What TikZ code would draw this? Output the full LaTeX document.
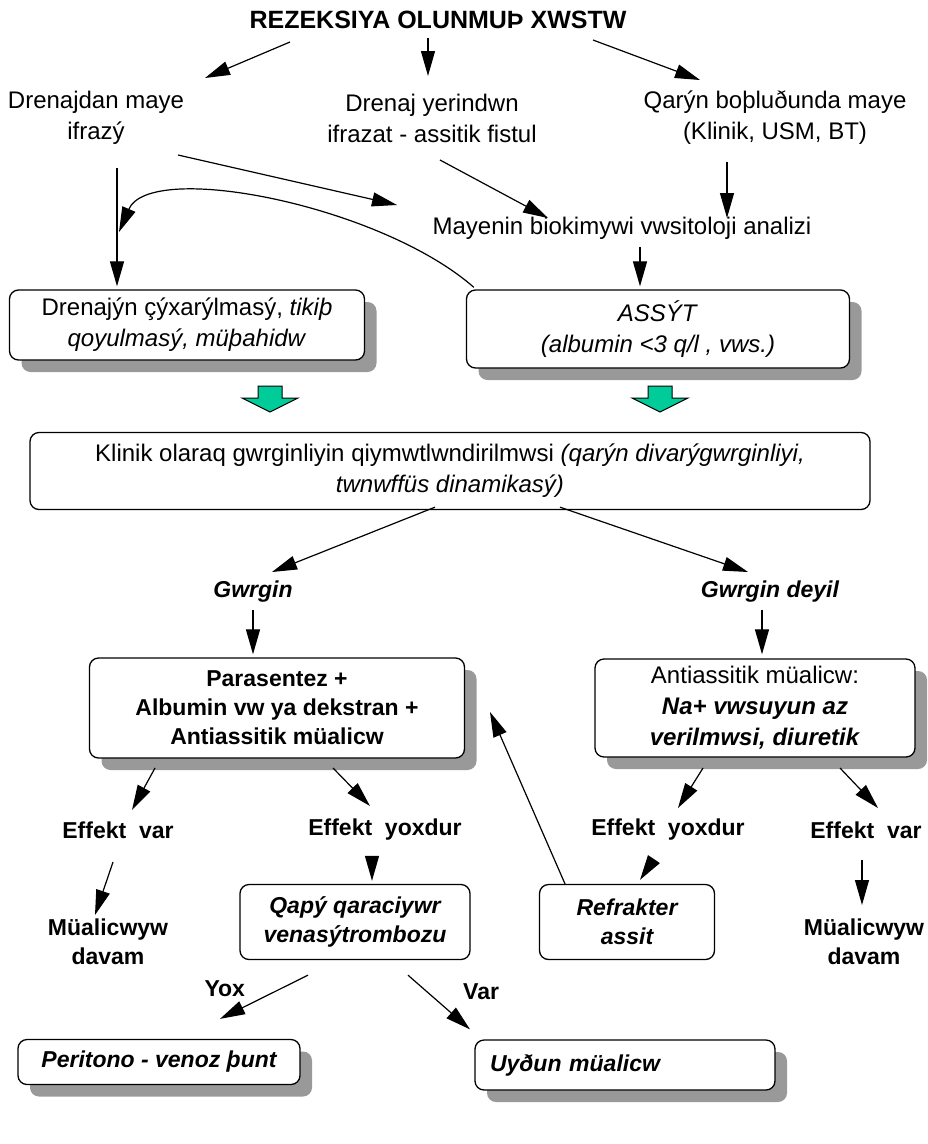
\documentclass[tikz,border=0pt]{standalone}
\usepackage{fontspec}
\setmainfont{Liberation Sans}
\usetikzlibrary{arrows.meta,shadows}

\definecolor{shadowgray}{RGB}{153,153,153}
\definecolor{arrowgreen}{RGB}{0,204,153}

\begin{document}
\begin{tikzpicture}[x=1pt,y=-1pt,>={Triangle[length=25pt,width=14pt]},
  every node/.style={font=\fontsize{24}{31}\selectfont,align=center,inner sep=2pt},
  box/.style={draw,rounded corners=9pt,line width=1.3pt,fill=white},
  sbox/.style={box,general shadow={fill=shadowgray,shadow xshift=12pt,shadow yshift=-12pt}},
  lbl/.style={font=\fontsize{23}{29}\selectfont\bfseries},
  conn/.style={->,line width=1.2pt},
  fatarrow/.style={draw,fill=arrowgreen,line width=1pt}]
\useasboundingbox (0,0) rectangle (928,1144);

\node[lbl,font=\fontsize{25}{30}\selectfont\bfseries] (ttl) at (438,20) {REZEKSIYA OLUNMUÞ XWSTW};
\node (drl) at (96,118) {Drenajdan maye\\ifrazý};
\node (dyr) at (432,118) {Drenaj yerindwn\\ifrazat - assitik fistul};
\node (qbm) at (775,118) {Qarýn boþluðunda maye\\(Klinik, USM, BT)};
\node (may) at (622,228) {Mayenin biokimywi vwsitoloji analizi};

\node[sbox,minimum width=355pt,minimum height=70pt] (drn) at (187,325)
  {Drenajýn çýxarýlmasý, \textit{tikiþ}\\\textit{qoyulmasý, müþahidw}};
\node[sbox,minimum width=383pt,minimum height=78pt] (ass) at (658,329)
  {\textit{ASSÝT}\\\textit{(albumin <3 q/l , vws.)}};
\node[box,minimum width=840pt,minimum height=77pt] (kln) at (450,471)
  {Klinik olaraq gwrginliyin qiymwtlwndirilmwsi \textit{(qarýn divarýgwrginliyi,}\\\textit{twnwffüs dinamikasý)}};

\node[lbl] (gw1) at (253,592) {\itshape Gwrgin};
\node[lbl] (gw2) at (770,592) {\itshape Gwrgin deyil};

\node[sbox,lbl,minimum width=375pt,minimum height=100pt] (par) at (277,708)
  {Parasentez +\\Albumin vw ya dekstran +\\Antiassitik müalicw};
\node[sbox,minimum width=320pt,minimum height=98pt] (ant) at (755,708)
  {Antiassitik müalicw:\\\textbf{\textit{Na+ vwsuyun az}}\\\textbf{\textit{verilmwsi, diuretik}}};

\node[lbl] (ev1) at (118,830) {Effekt\ \ var};
\node[lbl] (ey1) at (385,830) {Effekt\ \ yoxdur};
\node[lbl] (ey2) at (668,830) {Effekt\ \ yoxdur};
\node[lbl] (ev2) at (866,830) {Effekt\ \ var};

\node[lbl] (md1) at (108,942) {Müalicwyw\\davam};
\node[lbl] (md2) at (864,942) {Müalicwyw\\davam};
\node[box,lbl,minimum width=230pt,minimum height=75pt] (qap) at (355,922)
  {\itshape Qapý qaraciywr\\\itshape venasýtrombozu};
\node[box,lbl,minimum width=175pt,minimum height=75pt] (ref) at (627,922)
  {\itshape Refrakter\\\itshape assit};

\node[sbox,lbl,minimum width=282pt,minimum height=45pt] (per) at (159,1062)
  {\itshape Peritono - venoz þunt};
\node[sbox,lbl,minimum width=300pt,minimum height=50pt,align=left,text width=270pt] (uyg) at (625,1065)
  {\itshape Uyðun müalicw};

\coordinate (crv) at (119,232);

\draw[conn] ([shift={(-148,22)}]ttl.center) -- ([shift={(109,-40)}]drl.center);
\draw[conn] ([shift={(-10,18)}]ttl.center) -- ([shift={(-4,-42)}]dyr.center);
\draw[conn] ([shift={(155,20)}]ttl.center) -- ([shift={(-75,-38)}]qbm.center);
\draw[conn] ([shift={(82,37)}]drl.center) -- ([shift={(-225,-23)}]may.center);
\draw[conn] ([shift={(8,42)}]dyr.center) -- ([shift={(-74,-10)}]may.center);
\draw[conn] ([shift={(-48,44)}]qbm.center) -- ([shift={(105,-10)}]may.center);
\draw[conn] ([shift={(21,50)}]drl.center) -- ([shift={(-70,-3)}]drn.north);
\draw[conn] ([shift={(18,19)}]may.center) -- ([shift={(-18,-3)}]ass.north);
\draw[conn] ([shift={(8,-2)}]ass.north west) .. controls (380,205) and (150,160) .. (crv);

\foreach \gx in {270,660}
  \draw[fatarrow,shift={(\gx,398)}] (-12,-12) -- (12,-12) -- (12,0) -- (28,0) -- (0,14) -- (-28,0) -- (-12,0) -- cycle;

\draw[conn] ([shift={(-15,-3)}]kln.south) -- ([shift={(19,-20)}]gw1.center);
\draw[conn] ([shift={(110,-3)}]kln.south) -- ([shift={(-22,-20)}]gw2.center);
\draw[conn] ([shift={(0,18)}]gw1.center) -- ([shift={(-24,-3)}]par.north);
\draw[conn] ([shift={(-8,18)}]gw2.center) -- ([shift={(7,-4)}]ant.north);
\draw[conn] ([shift={(-122,60)}]par.center) -- ([shift={(14,-20)}]ev1.center);
\draw[conn] ([shift={(56,60)}]par.center) -- ([shift={(-15,-24)}]ey1.center);
\draw[conn] ([shift={(-52,60)}]ant.center) -- ([shift={(10,-22)}]ey2.center);
\draw[conn] ([shift={(85,60)}]ant.center) -- ([shift={(12,-22)}]ev2.center);
\draw[conn] ([shift={(-5,32)}]ev1.center) -- ([shift={(-13,-27)}]md1.center);
\draw[conn] ([shift={(-13,30)}]ey1.center) -- ([shift={(17,-3)}]qap.north);
\draw[conn] ([shift={(-16,32)}]ey2.center) -- ([shift={(13,-4)}]ref.north);
\draw[conn] ([shift={(-4,30)}]ev2.center) -- ([shift={(-2,-37)}]md2.center);
\draw[conn] ([shift={(-62,0)}]ref.north) -- ([shift={(213,4)}]par.center);
\draw[conn] ([shift={(-47,15)}]qap.south) -- node[lbl,pos=0.3,left=34pt] {Yox} ([shift={(61,-20)}]per.north);
\draw[conn] ([shift={(53,15)}]qap.south) -- node[lbl,pos=0.3,right=34pt] {Var} ([shift={(-155,-10)}]uyg.north);
\end{tikzpicture}
\end{document}
